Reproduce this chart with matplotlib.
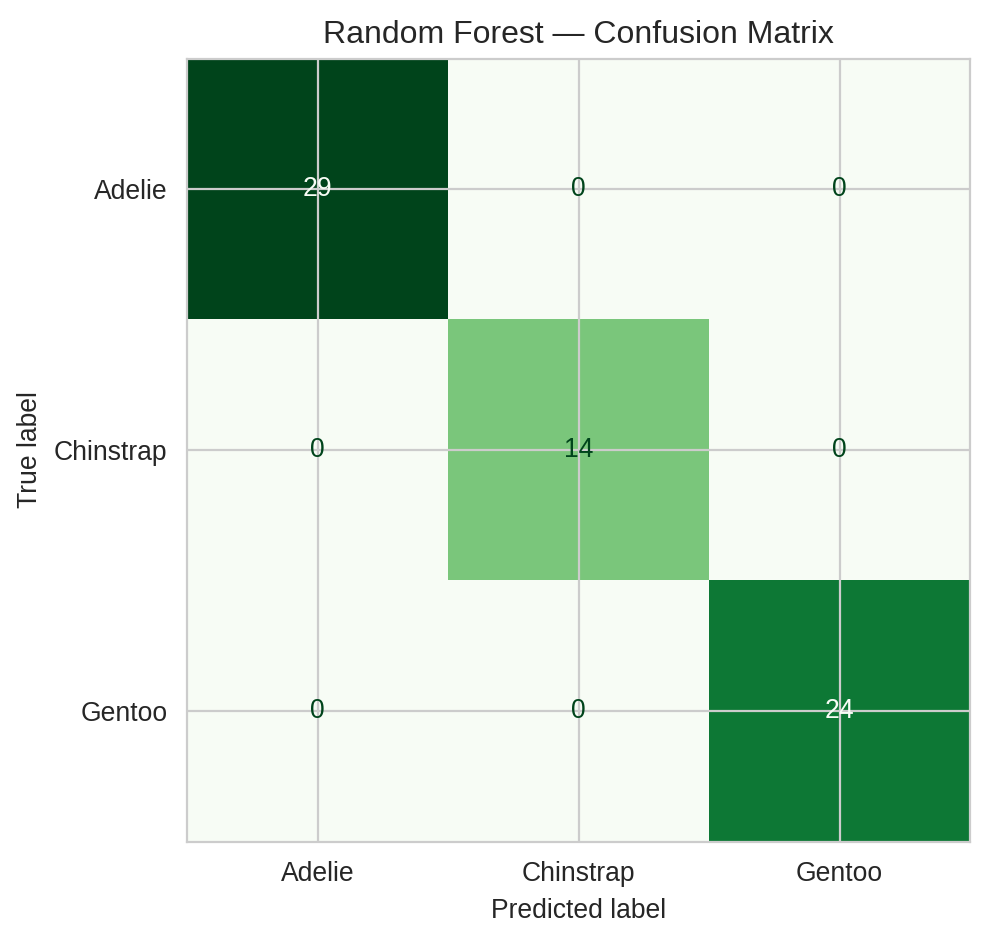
#!/usr/bin/env python3

import numpy as np
import matplotlib
matplotlib.use("Agg")
import matplotlib.pyplot as plt
import seaborn as sns

class_names = ["Adelie", "Chinstrap", "Gentoo"]
counts = [
	[29, 0, 0],
	[0, 14, 0],
	[0, 0, 24],
]


def main():
	sns.set_style("whitegrid")
	plt.rcParams["font.family"] = ["Liberation Sans", "DejaVu Sans"]
	plt.rcParams["xtick.labelsize"] = 9.55
	plt.rcParams["ytick.labelsize"] = 9.55
	plt.rcParams["axes.labelsize"] = 9.55
	plt.rcParams["axes.titlesize"] = 11.5

	cm = np.array(counts)
	cmap = plt.get_cmap("Greens")

	fig = plt.figure(figsize=(4.95, 4.695), dpi=200)
	ax = fig.add_axes([0.1889, 0.1033, 0.7909, 0.8349])

	ax.imshow(cm, interpolation="nearest", cmap=cmap)

	# text colour flips at the midpoint, like sklearn does it
	thresh = (cm.max() + cm.min()) / 2.0
	for i in range(cm.shape[0]):
		for j in range(cm.shape[1]):
			color = cmap(0.0) if cm[i, j] > thresh else cmap(1.0)
			ax.text(j, i, str(cm[i, j]), ha="center", va="center", color=color, fontsize=9.55)

	ax.set_xticks(range(len(class_names)))
	ax.set_yticks(range(len(class_names)))
	ax.set_xticklabels(class_names)
	ax.set_yticklabels(class_names)
	ax.set_xlabel("Predicted label")
	ax.set_ylabel("True label")
	ax.set_title("Random Forest \u2014 Confusion Matrix", pad=5.5)
	ax.set_xlim(-0.5, 2.5)
	ax.set_ylim(2.5, -0.5)

	fig.savefig("out.png", dpi=200)


if __name__ == "__main__":
	main()
